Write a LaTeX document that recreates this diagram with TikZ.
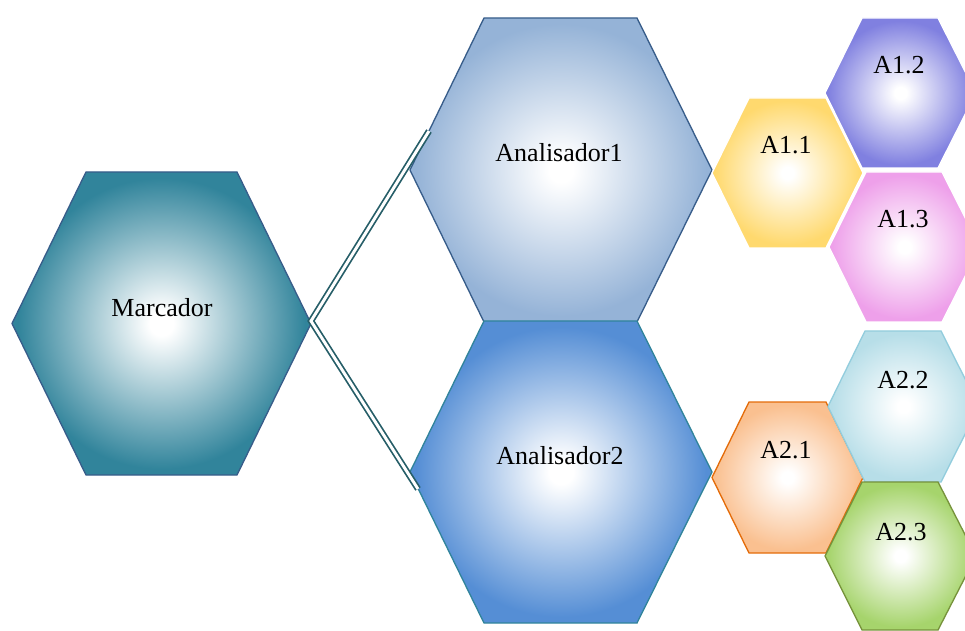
\documentclass[tikz,border=0pt]{standalone}
\usepackage{tikz}
\usepackage{fontspec}
\setmainfont{Liberation Serif}
\tikzset{every picture/.style={line width=0.75pt}}

\definecolor{marcfill}{RGB}{49,132,155}
\definecolor{an1fill}{RGB}{149,179,215}
\definecolor{an2fill}{RGB}{85,142,213}
\definecolor{bluedge}{RGB}{56,93,138}
\definecolor{linkcol}{RGB}{38,94,104}
\definecolor{yelfill}{RGB}{255,217,110}
\definecolor{purfill}{RGB}{128,128,224}
\definecolor{pinkfill}{RGB}{238,160,234}
\definecolor{orafill}{RGB}{250,192,144}
\definecolor{oraedge}{RGB}{228,108,10}
\definecolor{cyanfill}{RGB}{183,222,232}
\definecolor{cyanedge}{RGB}{147,205,221}
\definecolor{grnfill}{RGB}{166,212,108}
\definecolor{grnedge}{RGB}{119,147,60}

\pgfdeclareradialshading[hexfill]{hexglow}{\pgfpoint{0bp}{0bp}}{color(0bp)=(white); color(2bp)=(white); color(24bp)=(hexfill); color(50bp)=(hexfill)}
\colorlet{hexfill}{white}

\tikzset{
  hexa/.style 2 args={/utils/exec={\colorlet{hexfill}{#1}}, shading=hexglow, draw=#2, line width=1pt},
  hexlabel/.style={anchor=base, inner sep=0.75pt, font=\fontsize{19.5}{23}\selectfont},
  link/.style={draw=linkcol, double=white, double distance=2.2pt, line width=1.3pt}
}

\begin{document}
\begin{tikzpicture}[x=0.75pt,y=0.75pt,yscale=-1,xscale=1]
\clip (0,0) rectangle (965,631);

%Shape: Hexagon (Marcador)
\draw [hexa={marcfill}{bluedge}] (12,323.5) -- (86,172) -- (237,172) -- (311,323.5) -- (237,475) -- (86,475) -- cycle ;
%Shape: Hexagon (Analisador1)
\draw [hexa={an1fill}{bluedge}] (410,170) -- (484,18) -- (637,18) -- (712,170) -- (637,322) -- (484,322) -- cycle ;
%Shape: Hexagon (Analisador2)
\draw [hexa={an2fill}{marcfill}] (410,472) -- (484,321) -- (637,321) -- (712,472) -- (637,623) -- (484,623) -- cycle ;

%Shape: Hexagon (A1.1)
\draw [hexa={yelfill}{white}] (712,173) -- (749,98) -- (826,98) -- (863,173) -- (826,248) -- (749,248) -- cycle ;
%Shape: Hexagon (A1.2)
\draw [hexa={purfill}{white}] (825,93) -- (862,18) -- (938,18) -- (976,93) -- (938,168) -- (862,168) -- cycle ;
%Shape: Hexagon (A1.3)
\draw [hexa={pinkfill}{white}] (829,247) -- (866,172) -- (942,172) -- (980,247) -- (942,322) -- (866,322) -- cycle ;
%Shape: Hexagon (A2.1)
\draw [hexa={orafill}{oraedge}] (712,477.5) -- (749,402) -- (826,402) -- (863,477.5) -- (826,553) -- (749,553) -- cycle ;
%Shape: Hexagon (A2.2)
\draw [hexa={cyanfill}{cyanedge}] (828,406.5) -- (865,331) -- (941,331) -- (979,406.5) -- (941,482) -- (865,482) -- cycle ;
%Shape: Hexagon (A2.3)
\draw [hexa={grnfill}{grnedge}] (825,556) -- (862,482) -- (938,482) -- (976,556) -- (938,630) -- (862,630) -- cycle ;

%Connector ends
\coordinate (marc-e) at (311,321) ;
\coordinate (an1-w) at (429,131) ;
\coordinate (an2-w) at (418,489) ;

%Straight Lines
\draw [link] (an1-w) -- (marc-e) -- (an2-w) ;

% Text Node
\node (marcador) [hexlabel] at (162,316) {Marcador};
% Text Node
\node (analisador1) [hexlabel] at (559,162) {Analisador1};
% Text Node
\node (analisador2) [hexlabel] at (560,464) {Analisador2};
% Text Node
\node (a11) [hexlabel] at (786,154) {A1.1};
% Text Node
\node (a12) [hexlabel] at (899,74) {A1.2};
% Text Node
\node (a13) [hexlabel] at (903,228) {A1.3};
% Text Node
\node (a21) [hexlabel] at (786,458) {A2.1};
% Text Node
\node (a22) [hexlabel] at (903,388) {A2.2};
% Text Node
\node (a23) [hexlabel] at (901,540) {A2.3};

\end{tikzpicture}
\end{document}
